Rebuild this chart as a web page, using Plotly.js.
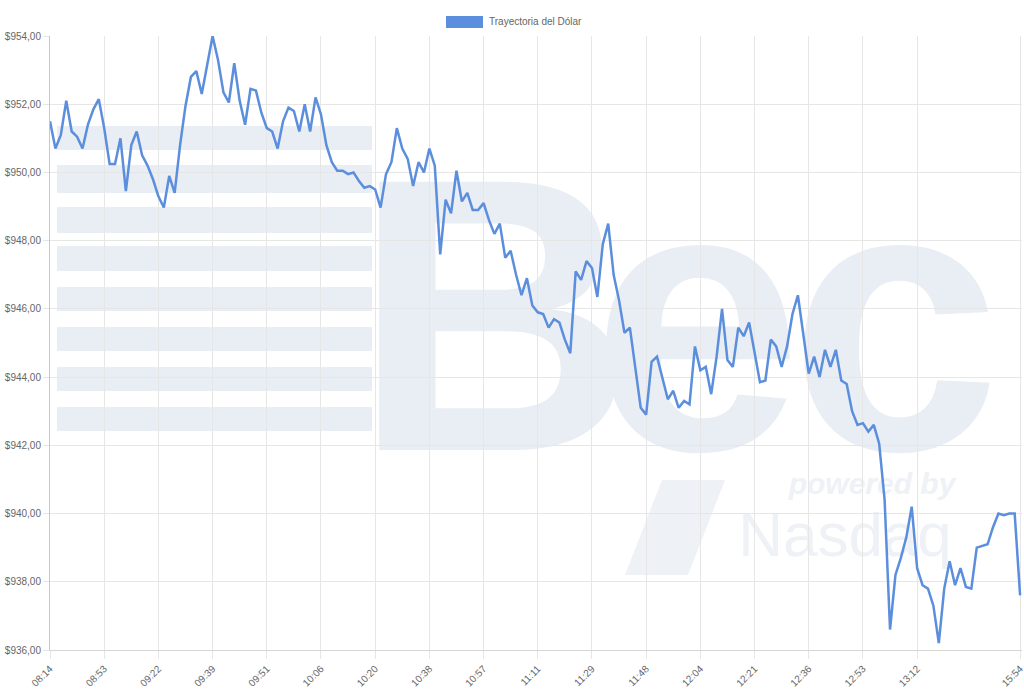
<!DOCTYPE html>
<html>
<head>
<meta charset="utf-8">
<script src="https://cdn.plot.ly/plotly-3.0.1.min.js"></script>
<style>
  html, body { margin: 0; padding: 0; background: #ffffff; }
  #chart { width: 1024px; height: 695px; }
</style>
</head>
<body>
<div id="chart"></div>
<script>
// tick labels shown on the x axis and their point index
const tickLabels = ["08:14", "08:53", "09:22", "09:39", "09:51", "10:06", "10:20", "10:38", "10:57",
    "11:11", "11:29", "11:48", "12:04", "12:21", "12:36", "12:53", "13:12", "15:54"];
const tickIndex = [0, 10, 20, 30, 40, 50, 60, 70, 80, 90, 100, 110, 120, 130, 140, 150, 160, 179];

const yTicks = [936, 938, 940, 942, 944, 946, 948, 950, 952, 954];

// dollar price, one value per sample
const price = [
    951.5, 950.7, 951.1, 952.1, 951.2, 951.05, 950.7, 951.4, 951.85, 952.15,
    951.3, 950.25, 950.25, 951.0, 949.45, 950.8, 951.2, 950.5, 950.2, 949.8,
    949.3, 948.97, 949.9, 949.4, 950.8, 951.95, 952.8, 952.97, 952.3, 953.2,
    954.0, 953.3, 952.35, 952.05, 953.2, 952.1, 951.4, 952.45, 952.4, 951.75,
    951.3, 951.2, 950.7, 951.5, 951.9, 951.8, 951.2, 952.0, 951.2, 952.2,
    951.7, 950.8, 950.3, 950.05, 950.05, 949.95, 950.0, 949.75, 949.55, 949.6,
    949.5, 948.97, 949.95, 950.3, 951.3, 950.7, 950.4, 949.6, 950.3, 950.0,
    950.7, 950.2, 947.6, 949.2, 948.8, 950.05, 949.15, 949.4, 948.9, 948.9,
    949.1, 948.6, 948.2, 948.5, 947.5, 947.7, 947.0, 946.4, 946.9, 946.1,
    945.9, 945.85, 945.45, 945.7, 945.6, 945.1, 944.7, 947.1, 946.85, 947.4,
    947.2, 946.35, 947.9, 948.5, 947.0, 946.25, 945.3, 945.45, 944.2, 943.1,
    942.9, 944.45, 944.6, 944.0, 943.35, 943.6, 943.1, 943.3, 943.2, 944.9,
    944.2, 944.3, 943.5, 944.6, 946.0, 944.5, 944.3, 945.45, 945.2, 945.6,
    944.75, 943.85, 943.9, 945.1, 944.9, 944.3, 944.9, 945.85, 946.4, 945.25,
    944.1, 944.6, 944.0, 944.8, 944.3, 944.8, 943.9, 943.8, 943.0, 942.6,
    942.65, 942.4, 942.6, 942.05, 940.4, 936.6, 938.2, 938.7, 939.3, 940.2,
    938.4, 937.9, 937.8, 937.3, 936.2, 937.8, 938.6, 937.9, 938.4, 937.85,
    937.8, 939.0, 939.05, 939.1, 939.6, 940.0, 939.95, 940.0, 940.0, 937.6
];

const lineColor = "#5b8edc";
const wmColor = "#e9edf4";
const wmLight = "#eef1f6";
const txtColor = "#666666";
const font = "Liberation Sans, Arial, sans-serif";

let idx = [];
for (let i = 0; i < price.length; i++) {
    idx.push(i);
}

function money(v) {
    return "$" + v.toFixed(2).replace(".", ",");
}

// plot area in pixels, used to place the watermark and legend
const PL = 50, PR = 1022, PT = 36, PB = 650;
function px(x) { return (x - PL) / (PR - PL); }
function py(y) { return (PB - y) / (PB - PT); }

let shapes = [];
// striped logo on the left
const stripes = [[126, 150], [165, 193], [207, 233], [246, 271], [287, 311], [327, 351], [367, 391], [407, 431]];
for (const s of stripes) {
    shapes.push({
        type: "rect", xref: "paper", yref: "paper", layer: "below",
        x0: px(57), x1: px(372), y0: py(s[1]), y1: py(s[0]),
        fillcolor: wmColor, line: { width: 0 }
    });
}

// watermark text drawn as shape labels so it stays under the line
function wmText(text, cx, cy, size, color, extra) {
    let f = { family: font, size: size, color: color };
    Object.assign(f, extra || {});
    shapes.push({
        type: "rect", xref: "paper", yref: "paper", layer: "below",
        x0: px(cx - 150), x1: px(cx + 150), y0: py(cy + 40), y1: py(cy - 40),
        fillcolor: "rgba(0,0,0,0)", line: { width: 0 },
        label: { text: text, textposition: "middle center", font: f }
    });
}
wmText("B", 494, 278, 390, wmColor, { weight: 700 });
wmText("e", 697, 282, 380, wmColor, { weight: 700 });
wmText("c", 895, 282, 380, wmColor, { weight: 700 });
wmText("powered by", 872, 480, 30, wmLight, { weight: 700, style: "italic" });
wmText("Nasdaq", 845, 528, 62, wmLight);
// N mark of the watermark
shapes.push({
    type: "path", xref: "paper", yref: "paper", layer: "below",
    path: "M " + px(625) + "," + py(575) + " L " + px(662) + "," + py(480) + " L " + px(725) + "," + py(480) +
        " L " + px(688) + "," + py(575) + " Z",
    fillcolor: wmLight, line: { width: 0 }
});

// legend box
shapes.push({
    type: "rect", xref: "paper", yref: "paper",
    x0: px(446), x1: px(483), y0: py(28), y1: py(16),
    fillcolor: lineColor, line: { width: 0 }
});

const trace = {
    x: idx,
    y: price,
    type: "scatter",
    mode: "lines",
    name: "Trayectoria del Dólar",
    line: { color: lineColor, width: 2.5 },
    hoverinfo: "y"
};

Plotly.newPlot("chart", [trace], {
    width: 1024,
    height: 695,
    showlegend: false,
    paper_bgcolor: "#ffffff",
    plot_bgcolor: "rgba(0,0,0,0)",
    margin: { l: PL, r: 1024 - PR, t: PT, b: 695 - PB },
    font: { family: font, size: 10, color: txtColor },
    xaxis: {
        range: [0, 179.35],
        tickvals: tickIndex,
        ticktext: tickLabels,
        tickangle: -45,
        ticklabeloverflow: "allow",
        ticks: "outside",
        ticklen: 8,
        tickcolor: "#e6e6e6",
        gridcolor: "#e6e6e6",
        showline: true,
        linecolor: "#d6d6d6",
        zeroline: false,
        tickfont: { size: 10, color: txtColor }
    },
    yaxis: {
        range: [yTicks[0], yTicks[yTicks.length - 1]],
        tickvals: yTicks,
        ticktext: yTicks.map(money),
        ticks: "outside",
        ticklen: 6,
        tickcolor: "#e6e6e6",
        gridcolor: "#e6e6e6",
        showline: true,
        linecolor: "#c8c8c8",
        zeroline: false,
        tickfont: { size: 10, color: txtColor }
    },
    shapes: shapes,
    annotations: [{
        xref: "paper", yref: "paper",
        x: px(487), y: py(22),
        xanchor: "left", yanchor: "middle",
        text: "Trayectoria del Dólar",
        showarrow: false,
        font: { size: 10, color: txtColor }
    }]
}, { displayModeBar: false, staticPlot: true });
</script>
</body>
</html>
